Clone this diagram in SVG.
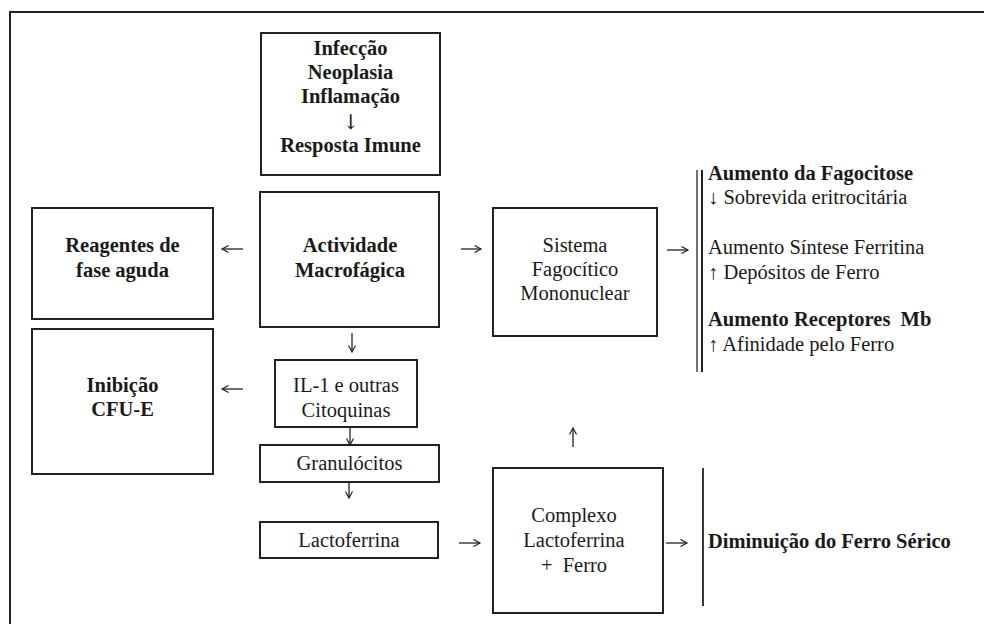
<svg xmlns="http://www.w3.org/2000/svg" width="984" height="624" viewBox="0 0 984 624">
<defs>
<style>
.box{fill:#fff;stroke:#222;stroke-width:2}
.t{font-family:"Liberation Serif","Times New Roman",serif;font-size:20.5px;fill:#1a1a1a}
.b{font-weight:bold}
.c{text-anchor:middle}
.pre{white-space:pre}
.g{font-family:"DejaVu Serif","Liberation Serif",serif;font-weight:normal;fill:#1a1a1a}
.arr{stroke:#222;stroke-width:1.3;fill:none;marker-end:url(#ah)}
.bar{stroke:#222;fill:none}
</style>
<marker id="ah" markerUnits="userSpaceOnUse" markerWidth="10" markerHeight="10" refX="7" refY="4" orient="auto">
<path d="M0.5,0.5 L7,4 L0.5,7.5" fill="none" stroke="#222" stroke-width="1.2"/>
</marker>
</defs>
<rect x="0" y="0" width="984" height="624" fill="#fff"/>
<rect x="10" y="12" width="1000" height="640" fill="none" stroke="#222" stroke-width="2"/>

<g id="causas">
<rect class="box" x="261" y="33" width="179" height="142"/>
<text class="t b c" x="350.5" y="55">Infecção</text>
<text class="t b c" x="350.5" y="79">Neoplasia</text>
<text class="t b c" x="350.5" y="103">Inflamação</text>
<text class="t c g" x="350.5" y="129">↓</text>
<text class="t b c" x="350.5" y="152">Resposta Imune</text>
</g>

<g id="reagentes">
<rect class="box" x="32" y="208" width="181" height="111"/>
<text class="t b c" x="122.5" y="252">Reagentes de</text>
<text class="t b c" x="122.5" y="277">fase aguda</text>
</g>

<g id="actividade">
<rect class="box" x="260" y="192" width="179" height="135"/>
<text class="t b c" x="350" y="252">Actividade</text>
<text class="t b c" x="350" y="277">Macrofágica</text>
</g>

<g id="sfm">
<rect class="box" x="493" y="208" width="164" height="128"/>
<text class="t c" x="575" y="252">Sistema</text>
<text class="t c" x="575" y="276">Fagocítico</text>
<text class="t c" x="575" y="300">Mononuclear</text>
</g>

<g id="efeitos">
<line class="bar" x1="697" y1="170" x2="697" y2="372" stroke-width="1.3"/>
<line class="bar" x1="702" y1="170" x2="702" y2="372" stroke-width="2"/>
<text class="t b" x="708" y="180">Aumento da Fagocitose</text>
<text class="t" x="708" y="204">↓ Sobrevida eritrocitária</text>
<text class="t" x="708" y="254">Aumento Síntese Ferritina</text>
<text class="t" x="708" y="279">↑ Depósitos de Ferro</text>
<text class="t b pre" x="708" y="326">Aumento Receptores  Mb</text>
<text class="t" x="708" y="351">↑ Afinidade pelo Ferro</text>
</g>

<g id="inibicao">
<rect class="box" x="32" y="329" width="181" height="145"/>
<text class="t b c" x="122.5" y="392">Inibição</text>
<text class="t b c" x="122.5" y="416">CFU-E</text>
</g>

<g id="il1">
<rect class="box" x="275" y="360" width="142" height="67"/>
<text class="t c" x="346" y="392">IL-1 e outras</text>
<text class="t c" x="346" y="417">Citoquinas</text>
</g>

<g id="granulocitos">
<rect class="box" x="260" y="445" width="179" height="37"/>
<text class="t c" x="349.5" y="470">Granulócitos</text>
</g>

<g id="lactoferrina">
<rect class="box" x="260" y="522" width="178" height="36"/>
<text class="t c" x="349" y="547">Lactoferrina</text>
</g>

<g id="complexo">
<rect class="box" x="493" y="468" width="170" height="145"/>
<text class="t c" x="574" y="522">Complexo</text>
<text class="t c" x="574" y="547">Lactoferrina</text>
<text class="t c pre" x="574" y="572">+  Ferro</text>
</g>

<g id="diminuicao">
<line class="bar" x1="703" y1="468" x2="703" y2="606" stroke-width="1.8"/>
<text class="t b" x="708" y="548">Diminuição do Ferro Sérico</text>
</g>

<g id="connectors">
<line class="arr" x1="243" y1="249" x2="222" y2="249"/>
<line class="arr" x1="243" y1="389" x2="222" y2="389"/>
<line class="arr" x1="461" y1="249" x2="481" y2="249"/>
<line class="arr" x1="667" y1="250" x2="688" y2="250"/>
<line class="arr" x1="459" y1="543" x2="480" y2="543"/>
<line class="arr" x1="666" y1="543" x2="687" y2="543"/>
<line class="arr" x1="352" y1="333" x2="352" y2="352"/>
<line class="arr" x1="573" y1="447" x2="573" y2="428"/>
<line class="arr" x1="350" y1="428" x2="350" y2="445"/>
<line class="arr" x1="349" y1="483" x2="349" y2="498"/>
</g>
</svg>
